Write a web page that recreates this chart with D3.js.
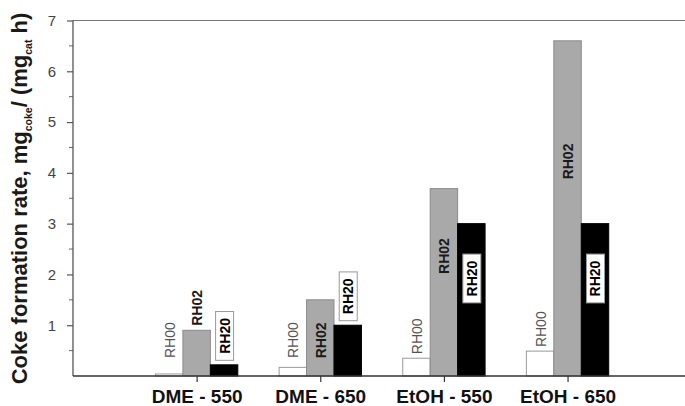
<!DOCTYPE html>
<html>
<head>
<meta charset="utf-8">
<script src="https://cdn.jsdelivr.net/npm/d3@7"></script>
<style>
  html, body { margin: 0; padding: 0; background: #fff; }
  svg { display: block; font-family: "Liberation Sans", Arial, sans-serif; }
</style>
</head>
<body>
<svg id="chart" width="685" height="406"></svg>
<script>
// Coke formation rate per feed / temperature, three RH conditions
const categories = ["DME - 550", "DME - 650", "EtOH - 550", "EtOH - 650"];
const seriesNames = ["RH00", "RH02", "RH20"];
const rh00 = [0.04, 0.17, 0.35, 0.49];
const rh02 = [0.9, 1.5, 3.69, 6.6];
const rh20 = [0.22, 1.0, 3.0, 3.0];
const yTicks = [1, 2, 3, 4, 5, 6, 7];
const yMinorTicks = [0.5, 1.5, 2.5, 3.5, 4.5, 5.5, 6.5];

const series = [rh00, rh02, rh20];

const plotLeft = 73, plotRight = 685, plotTop = 20.5, plotBottom = 376;

const svg = d3.select("#chart");

const x = d3.scaleLinear().domain([0, 4.95]).range([plotLeft, plotRight]);
const y = d3.scaleLinear().domain([0, 7]).range([plotBottom, plotTop]);
const barW = x(0.222) - x(0);

// frame: top border
svg.append("line")
  .attr("x1", plotLeft).attr("x2", plotRight).attr("y1", plotTop).attr("y2", plotTop)
  .attr("stroke", "#777").attr("stroke-width", 1.2);

// minor y ticks
svg.append("g").selectAll("line").data(yMinorTicks).join("line")
  .attr("x1", plotLeft - 4).attr("x2", plotLeft)
  .attr("y1", d => y(d)).attr("y2", d => y(d))
  .attr("stroke", "#666").attr("stroke-width", 1);

const yAxis = d3.axisLeft(y).tickValues(yTicks).tickSize(6).tickPadding(11)
  .tickFormat(d3.format("d"));
const gy = svg.append("g").attr("transform", `translate(${plotLeft},0)`).call(yAxis);
gy.select(".domain").attr("stroke", "#555").attr("stroke-width", 1.3)
  .attr("d", `M0,${plotTop}V${plotBottom}`);
gy.selectAll(".tick line").attr("stroke", "#555").attr("stroke-width", 1.2);
gy.selectAll(".tick text").attr("fill", "#444").attr("font-size", 15)
  .attr("font-family", "Liberation Sans, Arial, sans-serif");

// bars
const styles = [
  { fill: "#ffffff", stroke: "#999" },
  { fill: "#a9a9a9", stroke: "#8a8a8a" },
  { fill: "#000000", stroke: "#000" }
];
const bars = [];
series.forEach((vals, s) => {
  vals.forEach((v, i) => {
    bars.push({ s, i, v, cx: x(i + 1) + (s - 1) * barW });
  });
});

svg.append("g").selectAll("rect").data(bars).join("rect")
  .attr("x", d => d.cx - barW / 2)
  .attr("y", d => y(d.v))
  .attr("width", barW)
  .attr("height", d => y(0) - y(d.v))
  .attr("fill", d => styles[d.s].fill)
  .attr("stroke", d => styles[d.s].stroke)
  .attr("stroke-width", 1);

// x axis baseline and ticks
const xAxis = d3.axisBottom(x).tickValues([1, 2, 3, 4]).tickSize(6).tickPadding(8)
  .tickFormat(d => categories[d - 1]);
const gx = svg.append("g").attr("transform", `translate(0,${plotBottom})`).call(xAxis);
gx.select(".domain").attr("stroke", "#333").attr("stroke-width", 1.4)
  .attr("d", `M${plotLeft},0H${plotRight}`);
gx.selectAll(".tick line").attr("stroke", "#333").attr("stroke-width", 1.2);
gx.selectAll(".tick text").attr("fill", "#111").attr("font-size", 19)
  .attr("font-weight", "bold").attr("dy", null).attr("y", 27)
  .attr("font-family", "Liberation Sans, Arial, sans-serif");

// bar labels
const labels = svg.append("g");
const fs = 14;
const boxPad = 13, boxW = 18;
function insideCenter(v) { return Math.min(0.64 * v, v - 0.8); }

bars.forEach(b => {
  const name = seriesNames[b.s];
  let cy; // centre of the label along the bar
  const t = labels.append("text")
    .text(name)
    .attr("font-size", fs)
    .attr("text-anchor", "middle")
    .attr("dominant-baseline", "central");
  if (b.s > 0) t.attr("font-weight", "bold");
  const len = t.node().getComputedTextLength();
  if (b.s === 0) {
    const base = Math.min(y(b.v) - 4, 358);
    cy = base - len / 2;
    t.attr("fill", "#555");
  } else {
    const inside = b.v >= 1.2;
    const extent = b.s === 2 ? len + boxPad : len;
    if (inside) {
      cy = y(insideCenter(b.v));
    } else {
      cy = y(b.v) - 4.5 - extent / 2;
    }
    t.attr("fill", "#1a1a1a");
    if (b.s === 2) {
      labels.insert("rect", () => t.node())
        .attr("x", b.cx - boxW / 2 + 0.5).attr("y", cy - extent / 2)
        .attr("width", boxW).attr("height", extent)
        .attr("fill", "#fff").attr("stroke", "#999").attr("stroke-width", 1);
      t.attr("fill", "#000");
    }
  }
  t.attr("transform", `translate(${b.cx + 0.5},${cy}) rotate(-90)`);
});

// y axis title with subscripts
const title = svg.append("text")
  .attr("transform", `translate(27,198.5) rotate(-90)`)
  .attr("text-anchor", "middle")
  .attr("font-size", 22)
  .attr("font-weight", "bold")
  .attr("fill", "#1a1a1a");
title.append("tspan").text("Coke formation rate, mg");
title.append("tspan").text("coke").attr("font-size", 10.5).attr("dy", 5);
title.append("tspan").text("/ (mg").attr("dy", -5);
title.append("tspan").text("cat").attr("font-size", 10.5).attr("dy", 5);
title.append("tspan").text(" h)").attr("dy", -5);
</script>
</body>
</html>
